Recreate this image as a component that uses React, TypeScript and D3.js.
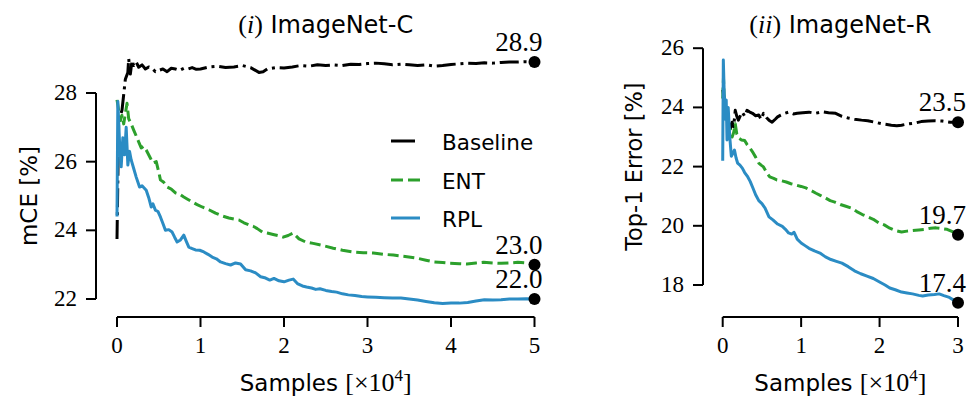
import React from "react";
import * as d3 from "d3";

// ---------- ImageNet-C (mCE %) vs samples (x 10^4) ----------
const cBaselineX = [0, 0.02, 0.06, 0.1, 0.13, 0.14, 0.16, 0.18, 0.2, 0.23, 0.26, 0.3, 0.34, 0.38, 0.42, 0.46, 0.5, 0.55, 0.6, 0.65, 0.7, 0.75, 0.8, 0.85, 0.9, 0.95, 1.0, 1.1, 1.2, 1.3, 1.4, 1.5, 1.6, 1.7, 1.75, 1.8, 1.9, 2.0, 2.1, 2.2, 2.3, 2.4, 2.5, 2.6, 2.7, 2.8, 2.9, 3.0, 3.1, 3.2, 3.3, 3.4, 3.5, 3.6, 3.7, 3.8, 3.9, 4.0, 4.1, 4.2, 4.3, 4.4, 4.5, 4.6, 4.7, 4.8, 4.9, 5.0];
const cBaselineY = [23.75, 27.2, 27.5, 28.4, 28.6, 29.0, 28.55, 28.95, 28.8, 28.9, 28.75, 28.82, 28.7, 28.76, 28.72, 28.62, 28.66, 28.7, 28.62, 28.72, 28.7, 28.66, 28.72, 28.7, 28.74, 28.69, 28.7, 28.76, 28.78, 28.74, 28.76, 28.8, 28.74, 28.6, 28.62, 28.7, 28.74, 28.73, 28.76, 28.8, 28.78, 28.82, 28.8, 28.82, 28.8, 28.84, 28.83, 28.86, 28.87, 28.85, 28.82, 28.84, 28.82, 28.8, 28.82, 28.78, 28.8, 28.83, 28.85, 28.87, 28.86, 28.88, 28.87, 28.89, 28.9, 28.9, 28.91, 28.9];

const cEntX = [0, 0.02, 0.04, 0.06, 0.08, 0.1, 0.12, 0.14, 0.17, 0.2, 0.23, 0.25, 0.29, 0.32, 0.35, 0.39, 0.43, 0.47, 0.5, 0.52, 0.56, 0.6, 0.65, 0.7, 0.75, 0.8, 0.85, 0.9, 0.96, 1.02, 1.1, 1.18, 1.26, 1.34, 1.4, 1.46, 1.52, 1.58, 1.63, 1.68, 1.74, 1.8, 1.87, 1.94, 1.99, 2.05, 2.11, 2.18, 2.26, 2.35, 2.46, 2.59, 2.7, 2.83, 2.95, 3.07, 3.2, 3.31, 3.45, 3.59, 3.7, 3.79, 3.9, 3.99, 4.1, 4.19, 4.3, 4.39, 4.5, 4.6, 4.7, 4.8, 4.9, 5.0];
const cEntY = [27.8, 27.5, 27.2, 27.35, 27.1, 27.4, 27.7, 27.25, 27.1, 26.92, 26.75, 26.63, 26.4, 26.45, 26.34, 26.15, 25.96, 26.0, 25.7, 25.47, 25.4, 25.26, 25.2, 25.09, 25.05, 24.97, 24.9, 24.83, 24.75, 24.68, 24.6, 24.5, 24.42, 24.36, 24.33, 24.3, 24.22, 24.16, 24.12, 24.05, 23.95, 23.92, 23.88, 23.84, 23.8, 23.85, 23.92, 23.75, 23.66, 23.62, 23.56, 23.48, 23.42, 23.37, 23.35, 23.34, 23.3, 23.28, 23.24, 23.19, 23.13, 23.08, 23.06, 23.04, 23.03, 23.02, 23.05, 23.07, 23.05, 23.04, 23.05, 23.07, 23.05, 23.0];

const cRplX = [0, 0.01, 0.03, 0.05, 0.07, 0.09, 0.11, 0.13, 0.15, 0.17, 0.2, 0.23, 0.27, 0.3, 0.35, 0.38, 0.41, 0.43, 0.46, 0.49, 0.52, 0.55, 0.58, 0.62, 0.66, 0.69, 0.72, 0.76, 0.8, 0.83, 0.86, 0.9, 0.94, 0.99, 1.04, 1.09, 1.14, 1.19, 1.24, 1.3, 1.36, 1.42, 1.48, 1.54, 1.6, 1.66, 1.72, 1.78, 1.83, 1.88, 1.94, 2.0, 2.06, 2.11, 2.16, 2.22, 2.27, 2.33, 2.38, 2.43, 2.5, 2.57, 2.63, 2.7, 2.77, 2.85, 2.93, 3.0, 3.1, 3.2, 3.3, 3.4, 3.5, 3.6, 3.7, 3.8, 3.9, 4.0, 4.1, 4.2, 4.3, 4.4, 4.5, 4.6, 4.7, 4.8, 4.9, 5.0];
const cRplY = [24.4, 27.75, 26.6, 25.85, 26.7, 26.2, 27.0, 25.9, 26.3, 26.05, 25.8, 25.55, 25.26, 25.3, 25.17, 24.95, 24.68, 24.77, 24.59, 24.55, 24.39, 24.2, 24.0, 24.02, 23.95, 23.8, 23.66, 23.72, 23.86, 23.68, 23.51, 23.47, 23.43, 23.42, 23.37, 23.3, 23.22, 23.17, 23.08, 23.03, 22.99, 23.05, 23.02, 22.85, 22.82, 22.76, 22.65, 22.61, 22.55, 22.6, 22.53, 22.5, 22.55, 22.58, 22.45, 22.38, 22.35, 22.32, 22.28, 22.3, 22.25, 22.22, 22.2, 22.15, 22.12, 22.1, 22.07, 22.06, 22.05, 22.04, 22.03, 22.03, 22.0, 21.97, 21.93, 21.89, 21.87, 21.88, 21.88, 21.9, 21.94, 21.98, 21.97, 21.98, 22.0, 22.0, 22.01, 22.0];

// ---------- ImageNet-R (top-1 error %) vs samples (x 10^4) ----------
const rBaselineX = [0, 0.02, 0.04, 0.06, 0.08, 0.1, 0.12, 0.14, 0.16, 0.18, 0.2, 0.23, 0.25, 0.28, 0.31, 0.34, 0.38, 0.42, 0.46, 0.49, 0.52, 0.56, 0.59, 0.63, 0.67, 0.7, 0.74, 0.79, 0.84, 0.9, 0.95, 1.02, 1.1, 1.18, 1.27, 1.35, 1.44, 1.52, 1.6, 1.68, 1.77, 1.85, 1.94, 2.04, 2.15, 2.22, 2.28, 2.36, 2.45, 2.53, 2.62, 2.7, 2.8, 2.9, 3.0];
const rBaselineY = [24.6, 24.3, 23.9, 23.6, 23.45, 23.3, 23.5, 23.35, 23.9, 23.7, 23.57, 23.75, 23.84, 23.7, 23.9, 23.85, 23.8, 23.72, 23.74, 23.6, 23.8, 23.65, 23.57, 23.5, 23.6, 23.68, 23.74, 23.8, 23.84, 23.78, 23.8, 23.82, 23.84, 23.8, 23.85, 23.82, 23.8, 23.7, 23.64, 23.6, 23.57, 23.55, 23.5, 23.44, 23.4, 23.38, 23.4, 23.44, 23.47, 23.52, 23.54, 23.55, 23.54, 23.5, 23.5];

const rEntX = [0, 0.01, 0.02, 0.04, 0.06, 0.08, 0.1, 0.12, 0.14, 0.16, 0.18, 0.21, 0.24, 0.28, 0.31, 0.34, 0.38, 0.42, 0.46, 0.49, 0.52, 0.56, 0.6, 0.65, 0.69, 0.75, 0.81, 0.87, 0.93, 1.0, 1.06, 1.12, 1.19, 1.25, 1.31, 1.37, 1.43, 1.5, 1.57, 1.64, 1.71, 1.78, 1.85, 1.92, 1.99, 2.06, 2.13, 2.2, 2.28, 2.35, 2.42, 2.5, 2.58, 2.65, 2.72, 2.8, 2.86, 2.93, 3.0];
const rEntY = [24.3, 25.0, 24.2, 24.0, 23.6, 23.3, 23.24, 23.0, 23.15, 23.45, 23.1, 22.95, 22.9, 22.88, 22.75, 22.66, 22.5, 22.32, 22.12, 22.05, 21.99, 21.8, 21.65, 21.6, 21.55, 21.52, 21.48, 21.42, 21.38, 21.33, 21.28, 21.2, 21.1, 21.02, 20.94, 20.85, 20.8, 20.72, 20.66, 20.6, 20.48, 20.38, 20.3, 20.22, 20.1, 20.03, 19.92, 19.84, 19.79, 19.82, 19.84, 19.86, 19.88, 19.92, 19.93, 19.9, 19.88, 19.8, 19.7];

const rRplX = [0, 0.008, 0.02, 0.03, 0.045, 0.055, 0.07, 0.08, 0.09, 0.11, 0.13, 0.15, 0.17, 0.19, 0.22, 0.25, 0.28, 0.32, 0.35, 0.38, 0.42, 0.46, 0.5, 0.54, 0.59, 0.64, 0.7, 0.76, 0.8, 0.84, 0.88, 0.91, 0.95, 1.0, 1.05, 1.1, 1.17, 1.24, 1.31, 1.38, 1.45, 1.52, 1.6, 1.68, 1.76, 1.84, 1.92, 2.0, 2.07, 2.13, 2.2, 2.28, 2.35, 2.42, 2.5, 2.55, 2.62, 2.7, 2.76, 2.82, 2.89, 2.95, 3.0];
const rRplY = [22.2, 25.6, 24.4, 23.6, 24.25, 22.9, 24.0, 23.5, 23.0, 22.35, 22.45, 22.56, 22.3, 22.12, 22.05, 21.95, 21.8, 21.65, 21.5, 21.31, 21.05, 20.85, 20.75, 20.6, 20.3, 20.2, 20.06, 19.98, 19.88, 19.76, 19.72, 19.78, 19.55, 19.42, 19.33, 19.24, 19.15, 19.08, 18.95, 18.86, 18.8, 18.74, 18.62, 18.48, 18.38, 18.3, 18.22, 18.1, 18.0, 17.9, 17.84, 17.76, 17.73, 17.7, 17.65, 17.63, 17.66, 17.68, 17.7, 17.64, 17.58, 17.48, 17.4];

const cXTicks = [0, 1, 2, 3, 4, 5];
const cYTicks = [22, 24, 26, 28];
const rXTicks = [0, 1, 2, 3];
const rYTicks = [18, 20, 22, 24, 26];

const seriesNames = ["Baseline", "ENT", "RPL"];
const cFinal = ["28.9", "23.0", "22.0"];
const rFinal = ["23.5", "19.7", "17.4"];

const COLORS = ["#000000", "#2ca02c", "#2b8cc4"];
const DASHES = ["19,4.8,3,4.8", "11,4.8", null];
const SERIF = "'Liberation Serif', serif";
const SANS = "'DejaVu Sans', sans-serif";
const LW = 3;

type Series = { x: number[]; y: number[] };

function Panel(props: {
  x0: number; x1: number; y0: number; y1: number;
  xDomain: [number, number]; yDomain: [number, number];
  xTicks: number[]; yTicks: number[];
  yAxisX: number; xAxisY: number;
  series: Series[]; finals: string[];
  titleItalic: string; titleText: string;
  yLabel: string; yLabelX: number; yLabelSize: number;
}) {
  const p = props;
  const xs = d3.scaleLinear().domain(p.xDomain).range([p.x0, p.x1]);
  const ys = d3.scaleLinear().domain(p.yDomain).range([p.y0, p.y1]);
  const line = d3.line<[number, number]>().x((d) => xs(d[0])).y((d) => ys(d[1]));
  const cx = (p.x0 + p.x1) / 2;
  const cy = (p.y0 + p.y1) / 2;
  return (
    <g>
      {/* title */}
      <text x={cx} y={33} textAnchor="middle" fontSize={24} fill="#000">
        <tspan fontFamily={SERIF} fontSize={26}>(</tspan>
        <tspan fontFamily={SERIF} fontSize={26} fontStyle="italic">{p.titleItalic}</tspan>
        <tspan fontFamily={SERIF} fontSize={26}>)</tspan>
        <tspan fontFamily={SANS}>{" " + p.titleText}</tspan>
      </text>

      {/* y axis */}
      <line x1={p.yAxisX} x2={p.yAxisX} y1={ys(p.yDomain[0])} y2={ys(p.yDomain[1])} stroke="#000" strokeWidth={2} />
      {p.yTicks.map((t) => (
        <g key={"y" + t}>
          <line x1={p.yAxisX - 10} x2={p.yAxisX} y1={ys(t)} y2={ys(t)} stroke="#000" strokeWidth={2} />
          <text x={p.yAxisX - 19} y={ys(t)} dy="0.3em" textAnchor="end" fontFamily={SERIF} fontSize={23}>{t}</text>
        </g>
      ))}
      <text transform={`translate(${p.yLabelX},${cy}) rotate(-90)`} textAnchor="middle" fontFamily={SANS} fontSize={p.yLabelSize}>{p.yLabel}</text>

      {/* x axis */}
      <line x1={xs(p.xDomain[0])} x2={xs(p.xDomain[1])} y1={p.xAxisY} y2={p.xAxisY} stroke="#000" strokeWidth={2} />
      {p.xTicks.map((t) => (
        <g key={"x" + t}>
          <line x1={xs(t)} x2={xs(t)} y1={p.xAxisY} y2={p.xAxisY + 10} stroke="#000" strokeWidth={2} />
          <text x={xs(t)} y={p.xAxisY + 36} textAnchor="middle" fontFamily={SERIF} fontSize={23}>{t}</text>
        </g>
      ))}
      <text x={cx} y={391} textAnchor="middle" fontSize={23}>
        <tspan fontFamily={SANS}>Samples </tspan>
        <tspan fontFamily={SERIF} fontSize={26}>[×10</tspan>
        <tspan fontFamily={SERIF} fontSize={17} dy={-10}>4</tspan>
        <tspan fontFamily={SERIF} fontSize={26} dy={10}>]</tspan>
      </text>

      {/* series */}
      {p.series.map((s, i) => (
        <path
          key={"s" + i}
          d={line(s.x.map((v, k) => [v, s.y[k]] as [number, number])) || ""}
          fill="none"
          stroke={COLORS[i]}
          strokeWidth={LW}
          strokeDasharray={DASHES[i] || undefined}
          strokeLinejoin="round"
        />
      ))}

      {/* final values */}
      {p.series.map((s, i) => {
        const v = +p.finals[i];
        const px = xs(s.x[s.x.length - 1]);
        const py = ys(v);
        return (
          <g key={"f" + i}>
            <circle cx={px} cy={py} r={6} fill="#000" />
            <text x={px + 8} y={py - 11} textAnchor="end" fontFamily={SERIF} fontSize={27}>{p.finals[i]}</text>
          </g>
        );
      })}
    </g>
  );
}

export default function App() {
  const cSeries: Series[] = [
    { x: cBaselineX, y: cBaselineY },
    { x: cEntX, y: cEntY },
    { x: cRplX, y: cRplY },
  ];
  const rSeries: Series[] = [
    { x: rBaselineX, y: rBaselineY },
    { x: rEntX, y: rEntY },
    { x: rRplX, y: rRplY },
  ];
  const legendY = [141, 180, 218];
  return (
    <svg width={972} height={403} style={{ display: "block", position: "absolute", left: 0, top: 0, background: "#fff" }}>
      <Panel
        x0={117} x1={534.5} y0={299} y1={93}
        xDomain={[0, 5]} yDomain={[22, 28]}
        xTicks={cXTicks} yTicks={cYTicks}
        yAxisX={96} xAxisY={317}
        series={cSeries} finals={cFinal}
        titleItalic="i" titleText="ImageNet-C"
        yLabel="mCE [%]" yLabelX={37} yLabelSize={23}
      />
      <Panel
        x0={722.7} x1={958} y0={285} y1={48.2}
        xDomain={[0, 3]} yDomain={[18, 26]}
        xTicks={rXTicks} yTicks={rYTicks}
        yAxisX={703} xAxisY={317}
        series={rSeries} finals={rFinal}
        titleItalic="ii" titleText="ImageNet-R"
        yLabel="Top-1 Error [%]" yLabelX={642} yLabelSize={22.5}
      />
      {/* legend */}
      {seriesNames.map((n, i) => (
        <g key={n}>
          <line
            x1={391} x2={i === 0 ? 415 : 420}
            y1={legendY[i]} y2={legendY[i]}
            stroke={COLORS[i]} strokeWidth={LW}
            strokeDasharray={i === 1 ? "12,5" : undefined}
          />
          <text x={442} y={legendY[i] + 9} fontFamily={SANS} fontSize={21.5}>{n}</text>
        </g>
      ))}
    </svg>
  );
}
